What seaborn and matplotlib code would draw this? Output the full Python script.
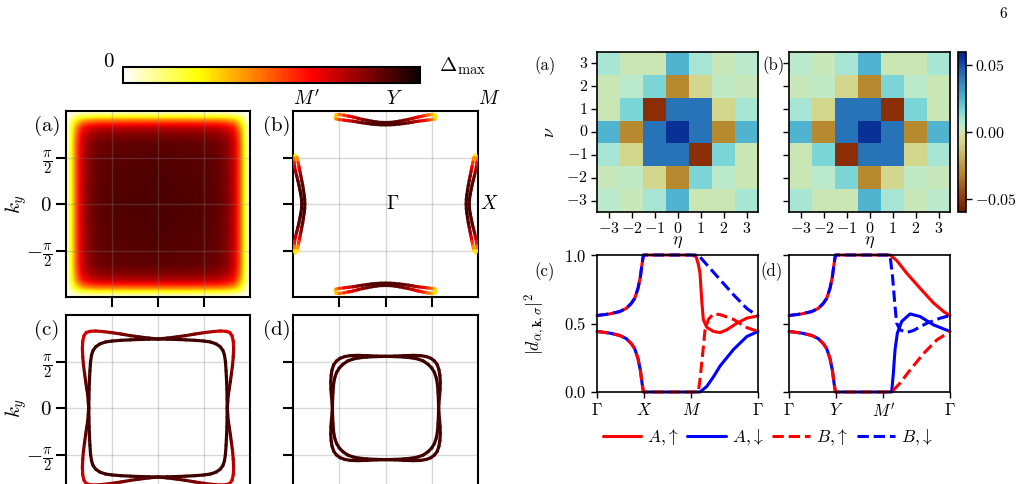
import numpy as np
import pandas as pd
import matplotlib
matplotlib.use("Agg")
import matplotlib.pyplot as plt
import seaborn as sns
from matplotlib.collections import LineCollection
from matplotlib.colors import LinearSegmentedColormap, Normalize
from matplotlib.cm import ScalarMappable

# ---------------- data ----------------
# gap profile vs distance from BZ edge (units of pi), panel (a) left
edge_dist = [0.0, 0.025, 0.055, 0.09, 0.13, 0.18, 0.25, 0.35, 0.55, 1.0]
edge_gap = [0.0, 0.12, 0.25, 0.45, 0.62, 0.78, 0.87, 0.92, 0.94, 0.95]

# panel (b) left: top pocket (half, tip -> centre), units of pi
top_x = [-0.545, -0.535, -0.5, -0.45, -0.4, -0.35, -0.3, -0.25, -0.2, -0.15, -0.1, -0.05, 0.0]
top_up_y = [0.935, 0.958, 0.962, 0.955, 0.945, 0.935, 0.922, 0.91, 0.90, 0.89, 0.882, 0.877, 0.876]
top_lo_y = [0.935, 0.915, 0.908, 0.902, 0.896, 0.89, 0.882, 0.873, 0.866, 0.86, 0.855, 0.852, 0.851]
top_up_g = [0.22, 0.32, 0.42, 0.52, 0.6, 0.66, 0.72, 0.78, 0.83, 0.86, 0.88, 0.89, 0.9]
top_lo_g = [0.22, 0.4, 0.5, 0.6, 0.68, 0.74, 0.8, 0.84, 0.87, 0.89, 0.9, 0.9, 0.9]
# panel (b) left: left pocket (half, tip -> ky=0)
side_y = [0.525, 0.5, 0.45, 0.4, 0.35, 0.3, 0.25, 0.2, 0.15, 0.1, 0.05, 0.0]
side_out_x = [-0.975, -0.99, -0.988, -0.982, -0.972, -0.96, -0.947, -0.935, -0.925, -0.915, -0.908, -0.905]
side_in_x = [-0.975, -0.955, -0.945, -0.935, -0.925, -0.915, -0.905, -0.895, -0.887, -0.88, -0.874, -0.872]
side_out_g = [0.22, 0.4, 0.55, 0.68, 0.76, 0.82, 0.86, 0.88, 0.9, 0.9, 0.9, 0.9]
side_in_g = [0.22, 0.35, 0.5, 0.62, 0.72, 0.8, 0.85, 0.88, 0.9, 0.9, 0.9, 0.9]

# panel (c) left: first quadrant (top -> right)
c_out_x = [0.0, 0.1, 0.2, 0.3, 0.4, 0.5, 0.6, 0.68, 0.74, 0.78, 0.805, 0.818, 0.822, 0.818, 0.81, 0.798, 0.786, 0.775, 0.764, 0.758, 0.754]
c_out_y = [0.742, 0.752, 0.764, 0.778, 0.795, 0.81, 0.822, 0.828, 0.824, 0.812, 0.776, 0.72, 0.64, 0.55, 0.46, 0.37, 0.283, 0.21, 0.14, 0.07, 0.0]
c_out_g = [0.91, 0.9, 0.88, 0.86, 0.83, 0.79, 0.75, 0.72, 0.7, 0.7, 0.7, 0.71, 0.73, 0.77, 0.81, 0.84, 0.87, 0.89, 0.9, 0.91, 0.91]
c_in_x = [0.0, 0.1, 0.2, 0.3, 0.4, 0.5, 0.57, 0.63, 0.675, 0.705, 0.722, 0.733, 0.74, 0.745, 0.749, 0.751, 0.752]
c_in_y = [0.742, 0.74, 0.737, 0.733, 0.728, 0.72, 0.71, 0.69, 0.66, 0.62, 0.57, 0.5, 0.4, 0.3, 0.2, 0.1, 0.0]
c_in_g = [0.92] * 17

# panel (d) left: first quadrant (top -> right)
d_out_x = [0.0, 0.1, 0.2, 0.3, 0.38, 0.44, 0.49, 0.53, 0.56, 0.578, 0.588, 0.592, 0.59, 0.584, 0.577, 0.574]
d_out_y = [0.555, 0.558, 0.563, 0.566, 0.563, 0.553, 0.535, 0.505, 0.465, 0.41, 0.35, 0.28, 0.2, 0.12, 0.05, 0.0]
d_out_g = [0.91] * 16
d_in_x = [0.0, 0.1, 0.2, 0.28, 0.35, 0.41, 0.46, 0.5, 0.53, 0.55, 0.562, 0.568, 0.572, 0.574]
d_in_y = [0.555, 0.553, 0.548, 0.54, 0.527, 0.505, 0.47, 0.43, 0.38, 0.32, 0.25, 0.17, 0.09, 0.0]
d_in_g = [0.92] * 14

# right heatmaps (rows nu = 3 ... -3, columns eta = -3 ... 3)
eta = [-3, -2, -1, 0, 1, 2, 3]
nu = [3, 2, 1, 0, -1, -2, -3]
map_a = [
    [0.009, 0.001, 0.001, 0.025, 0.009, 0.002, 0.005],
    [0.001, 0.005, 0.016, -0.030, -0.007, 0.004, 0.002],
    [0.001, 0.016, -0.052, 0.043, 0.043, -0.007, 0.009],
    [0.025, -0.030, 0.043, 0.056, 0.043, -0.030, 0.025],
    [0.009, -0.007, 0.043, 0.043, -0.052, 0.016, 0.001],
    [0.002, 0.004, -0.007, -0.030, 0.016, 0.005, 0.001],
    [0.005, 0.002, 0.009, 0.025, 0.001, 0.001, 0.009],
]
map_b = [
    [0.005, 0.002, 0.009, 0.025, 0.001, 0.001, 0.009],
    [0.002, 0.004, -0.007, -0.030, 0.016, 0.005, 0.001],
    [0.009, -0.007, 0.043, 0.043, -0.052, 0.016, 0.001],
    [0.025, -0.030, 0.043, 0.056, 0.043, -0.030, 0.025],
    [0.001, 0.016, -0.052, 0.043, 0.043, -0.007, 0.009],
    [0.001, 0.005, 0.016, -0.030, -0.007, 0.004, 0.002],
    [0.009, 0.001, 0.001, 0.025, 0.009, 0.002, 0.005],
]

# right line plots: path coordinate (Gamma=0, X/Y=1, M/M'=2, Gamma=2+sqrt2)
path_ticks = [0.0, 1.0, 2.0, 3.414]
first_x = [0.0, 0.27, 0.48, 0.62, 0.73, 0.8, 0.87, 0.92, 0.957, 0.985, 1.0, 2.0]
first_up = [0.558, 0.57, 0.587, 0.61, 0.648, 0.684, 0.757, 0.842, 0.94, 1.0, 1.0, 1.0]
first_lo = [0.442, 0.43, 0.413, 0.39, 0.352, 0.316, 0.243, 0.158, 0.06, 0.0, 0.0, 0.0]

c_Aup_x = [2.1, 2.15, 2.184, 2.22, 2.255, 2.326, 2.468, 2.61, 2.752, 2.965, 3.177, 3.414]
c_Aup_y = [0.99, 0.93, 0.867, 0.672, 0.527, 0.473, 0.442, 0.434, 0.454, 0.502, 0.539, 0.556]
c_Adn_x = [2.184, 2.326, 2.468, 2.61, 2.894, 3.177, 3.414]
c_Adn_y = [0.0, 0.04, 0.11, 0.19, 0.31, 0.405, 0.442]
c_Bup_x = [2.149, 2.184, 2.241, 2.29, 2.362, 2.468, 2.61, 2.894, 3.177, 3.414]
c_Bup_y = [0.0, 0.09, 0.28, 0.45, 0.53, 0.57, 0.565, 0.53, 0.47, 0.442]
c_Bdn_x = [2.149, 2.326, 2.61, 2.894, 3.177, 3.319, 3.414]
c_Bdn_y = [1.0, 0.93, 0.82, 0.71, 0.61, 0.575, 0.558]

d_Aup_x = [2.142, 2.284, 2.496, 2.78, 3.064, 3.277, 3.414]
d_Aup_y = [1.0, 0.96, 0.867, 0.757, 0.65, 0.587, 0.558]
d_Adn_x = [2.177, 2.213, 2.248, 2.298, 2.39, 2.567, 2.78, 3.064, 3.414]
d_Adn_y = [0.0, 0.138, 0.308, 0.43, 0.515, 0.57, 0.551, 0.49, 0.442]
d_Bup_x = [2.177, 2.355, 2.567, 2.851, 3.135, 3.414]
d_Bup_y = [0.0, 0.065, 0.16, 0.28, 0.38, 0.442]
d_Bdn_x = [2.142, 2.199, 2.248, 2.284, 2.355, 2.496, 2.638, 2.922, 3.206, 3.414]
d_Bdn_y = [1.0, 0.83, 0.624, 0.502, 0.454, 0.434, 0.449, 0.502, 0.539, 0.558]

legend_labels = [r"$A,\!\uparrow$", r"$A,\!\downarrow$", r"$B,\!\uparrow$", r"$B,\!\downarrow$"]

# ---------------- style ----------------
sns.set_theme(style="ticks")
plt.rcParams.update({
    "font.family": "serif",
    "font.serif": ["cmr10", "DejaVu Serif"],
    "mathtext.fontset": "cm",
    "axes.formatter.use_mathtext": True,
    "axes.edgecolor": "black",
    "xtick.color": "black",
    "ytick.color": "black",
    "text.color": "black",
    "axes.labelcolor": "black",
})

W, H = 1029, 484
fig = plt.figure(figsize=(W / 100, H / 100), dpi=100)


def rect(x0, y0, x1, y1):
    return [x0 / W, 1 - y1 / H, (x1 - x0) / W, (y1 - y0) / H]


def ftext(px, py, s, **kw):
    fig.text(px / W, 1 - py / H, s, ha="center", va="center", **kw)


PI = np.pi
cmap_gap = plt.get_cmap("hot_r")
norm_gap = Normalize(0, 1)


def setup_left(ax, ylabels):
    ax.set_xlim(-PI, PI)
    ax.set_ylim(-PI, PI)
    ax.set_xticks([-PI / 2, 0, PI / 2])
    ax.set_yticks([-PI / 2, 0, PI / 2])
    ax.set_xticklabels([])
    if ylabels:
        ax.set_yticklabels([r"$-\frac{\pi}{2}$", r"$0$", r"$\frac{\pi}{2}$"], fontsize=15)
        ax.set_ylabel(r"$k_y$", fontsize=15)
        ax.yaxis.set_label_coords(-0.2, 0.5)
    else:
        ax.set_yticklabels([])
    ax.tick_params(length=7, width=1.5, direction="out", pad=3)
    ax.grid(True, color="0.5", alpha=0.3, lw=1.0)
    for s in ax.spines.values():
        s.set_linewidth(1.5)
        s.set_visible(True)


def add_curve(ax, x, y, g, lw=2.3):
    x = np.asarray(x) * PI
    y = np.asarray(y) * PI
    g = np.asarray(g)
    pts = np.column_stack([x, y])
    segs = np.stack([pts[:-1], pts[1:]], axis=1)
    lc = LineCollection(segs, cmap=cmap_gap, norm=norm_gap, linewidths=lw,
                        capstyle="round", joinstyle="round", zorder=3)
    lc.set_array(0.5 * (g[:-1] + g[1:]))
    ax.add_collection(lc)


def loop4(x, y, g):
    x, y, g = map(np.asarray, (x, y, g))
    X = np.concatenate([x, x[::-1][1:], -x[1:], -x[::-1][1:]])
    Y = np.concatenate([y, -y[::-1][1:], -y[1:], y[::-1][1:]])
    G = np.concatenate([g, g[::-1][1:], g[1:], g[::-1][1:]])
    return X, Y, G


# ---------- left colorbar ----------
cax_l = fig.add_axes(rect(123, 67, 420, 83))
cb = fig.colorbar(ScalarMappable(norm=norm_gap, cmap=cmap_gap), cax=cax_l, orientation="horizontal")
cb.set_ticks([])
cb.outline.set_linewidth(1.5)
ftext(108, 62, "0", fontsize=15)
ftext(463, 66, r"$\Delta_{\rm max}$", fontsize=15)

# ---------- left (a) ----------
ax_la = fig.add_axes(rect(66, 111, 250, 297))
k = np.linspace(-PI, PI, 400)
f = np.interp((PI - np.abs(k)) / PI, edge_dist, edge_gap)
Z = np.outer(f, f)
ax_la.imshow(Z, cmap=cmap_gap, norm=norm_gap, extent=[-PI, PI, -PI, PI], origin="lower",
             interpolation="bilinear", aspect="auto", zorder=0)
setup_left(ax_la, True)

# ---------- left (b) ----------
ax_lb = fig.add_axes(rect(293, 111, 478, 297))
setup_left(ax_lb, False)
tx = np.asarray(top_x)
for sy in (1, -1):
    ux = np.concatenate([tx, -tx[::-1][1:]])
    uy = sy * np.concatenate([top_up_y, top_up_y[::-1][1:]])
    ug = np.concatenate([top_up_g, top_up_g[::-1][1:]])
    ly = sy * np.concatenate([top_lo_y, top_lo_y[::-1][1:]])
    lg = np.concatenate([top_lo_g, top_lo_g[::-1][1:]])
    add_curve(ax_lb, ux, uy, ug)
    add_curve(ax_lb, ux, ly, lg)
sy_ = np.asarray(side_y)
for sx in (1, -1):
    yy = np.concatenate([sy_, -sy_[::-1][1:]])
    ox = sx * np.concatenate([side_out_x, side_out_x[::-1][1:]])
    og = np.concatenate([side_out_g, side_out_g[::-1][1:]])
    ix = sx * np.concatenate([side_in_x, side_in_x[::-1][1:]])
    ig = np.concatenate([side_in_g, side_in_g[::-1][1:]])
    add_curve(ax_lb, ox, yy, og)
    add_curve(ax_lb, ix, yy, ig)
txt_kw = dict(fontsize=14, ha="left")
ax_lb.text(-PI, PI * 1.03, r"$M'$", va="bottom", **txt_kw)
ax_lb.text(0, PI * 1.03, r"$Y$", va="bottom", **txt_kw)
ax_lb.text(PI, PI * 1.03, r"$M$", va="bottom", **txt_kw)
ax_lb.text(0, 0, r"$\Gamma$", va="center", **txt_kw)
ax_lb.text(PI * 1.02, 0, r"$X$", va="center", **txt_kw)

# ---------- left (c) ----------
ax_lc = fig.add_axes(rect(66, 315, 250, 501))
setup_left(ax_lc, True)
add_curve(ax_lc, *loop4(c_in_x, c_in_y, c_in_g))
add_curve(ax_lc, *loop4(c_out_x, c_out_y, c_out_g))

# ---------- left (d) ----------
ax_ld = fig.add_axes(rect(293, 315, 478, 501))
setup_left(ax_ld, False)
add_curve(ax_ld, *loop4(d_in_x, d_in_y, d_in_g))
add_curve(ax_ld, *loop4(d_out_x, d_out_y, d_out_g))

for lab, (px, py) in zip(["(a)", "(b)", "(c)", "(d)"], [(47, 126), (277, 126), (47, 330), (277, 330)]):
    ftext(px, py, lab, fontsize=15)

# ---------- right heatmaps ----------
cmap_div = LinearSegmentedColormap.from_list("div", [
    (0.0, "#6a1a02"), ((-0.052 + 0.06) / 0.12, "#8B2E08"), ((-0.03 + 0.06) / 0.12, "#B88A30"),
    ((-0.007 + 0.06) / 0.12, "#D3D68C"), ((0.001 + 0.06) / 0.12, "#CCE6B4"),
    ((0.005 + 0.06) / 0.12, "#BCEACC"), ((0.009 + 0.06) / 0.12, "#A8E6D4"),
    ((0.016 + 0.06) / 0.12, "#7DD6D6"), ((0.025 + 0.06) / 0.12, "#50B4D0"),
    ((0.043 + 0.06) / 0.12, "#2673B8"), ((0.056 + 0.06) / 0.12, "#0A2F96"), (1.0, "#08287e")])

eta_labels = [rf"${v}$" for v in eta]
nu_labels = [rf"${v}$" for v in nu]
df_a = pd.DataFrame(map_a, index=nu, columns=eta)
df_b = pd.DataFrame(map_b, index=nu, columns=eta)

ax_ra = fig.add_axes(rect(597, 52, 758, 212))
ax_rb = fig.add_axes(rect(789, 52, 950, 212))
cax_r = fig.add_axes(rect(958, 52, 966, 212))
sns.heatmap(df_a, ax=ax_ra, cmap=cmap_div, vmin=-0.06, vmax=0.06, cbar_ax=cax_r,
            xticklabels=eta_labels, yticklabels=nu_labels, linewidths=0)
sns.heatmap(df_b, ax=ax_rb, cmap=cmap_div, vmin=-0.06, vmax=0.06, cbar=False,
            xticklabels=eta_labels, yticklabels=nu_labels, linewidths=0)
for ax in (ax_ra, ax_rb):
    for s in ax.spines.values():
        s.set_visible(True)
        s.set_linewidth(1.2)
    ax.tick_params(length=4.5, width=1.0, labelsize=11.5, pad=2)
    plt.setp(ax.get_xticklabels(), rotation=0)
    plt.setp(ax.get_yticklabels(), rotation=0)
    ax.set_xlabel(r"$\eta$", fontsize=13)
    ax.xaxis.set_label_coords(0.5, -0.14)
ax_rb.tick_params(labelleft=False)
ax_rb.set_ylabel("")
ax_ra.set_ylabel(r"$\nu$", fontsize=13)
ax_ra.yaxis.set_label_coords(-0.25, 0.5)
cbar = ax_ra.collections[0].colorbar
cbar.set_ticks([-0.05, 0.0, 0.05])
cbar.set_ticklabels([r"$-0.05$", r"$0.00$", r"$0.05$"])
cbar.ax.tick_params(length=4.5, width=1.0, labelsize=11.5, pad=2)
cbar.outline.set_visible(True)
cbar.outline.set_linewidth(1.2)
cbar.outline.set_edgecolor("black")

ftext(545, 66, "(a)", fontsize=12)
ftext(773, 66, "(b)", fontsize=12)

# ---------- right line plots ----------
ax_rc = fig.add_axes(rect(597, 255, 758, 392))
ax_rd = fig.add_axes(rect(789, 255, 950, 392))


def series(first_y, x2, y2):
    return np.concatenate([first_x, x2]), np.concatenate([first_y, y2])


panels = [
    (ax_rc, [(first_up, c_Aup_x, c_Aup_y), (first_lo, c_Adn_x, c_Adn_y),
             (first_lo, c_Bup_x, c_Bup_y), (first_up, c_Bdn_x, c_Bdn_y)],
     [r"$\Gamma$", r"$X$", r"$M$", r"$\Gamma$"]),
    (ax_rd, [(first_up, d_Aup_x, d_Aup_y), (first_lo, d_Adn_x, d_Adn_y),
             (first_lo, d_Bup_x, d_Bup_y), (first_up, d_Bdn_x, d_Bdn_y)],
     [r"$\Gamma$", r"$Y$", r"$M'$", r"$\Gamma$"]),
]
styles = [("#ff0000", "-"), ("#0000ff", "-"), ("#ff0000", "--"), ("#0000ff", "--")]
for ax, sers, xl in panels:
    for (fy, x2, y2), (col, ls) in zip(sers, styles):
        xx, yy = series(fy, x2, y2)
        sns.lineplot(x=xx, y=yy, ax=ax, color=col, linestyle=ls, lw=2.2, sort=False,
                     estimator=None, clip_on=False)
    ax.set_xlim(0, path_ticks[-1])
    ax.set_ylim(0, 1)
    ax.set_xticks(path_ticks)
    ax.set_xticklabels(xl, fontsize=12)
    ax.set_yticks([0, 0.5, 1.0])
    ax.set_yticklabels([r"$0.0$", r"$0.5$", r"$1.0$"], fontsize=12)
    ax.tick_params(length=4.5, width=1.0, pad=3)
    for s in ax.spines.values():
        s.set_visible(True)
        s.set_linewidth(1.2)
ax_rd.tick_params(labelleft=False)
ax_rc.set_ylabel(r"$|d_{\alpha,\mathbf{k},\sigma}|^2$", fontsize=13)
ax_rc.yaxis.set_label_coords(-0.3, 0.5)

ftext(545, 272, "(c)", fontsize=12)
ftext(771, 272, "(d)", fontsize=12)

handles = ax_rc.get_lines()[:4]
fig.legend(handles, legend_labels, loc="center", bbox_to_anchor=(768 / W, 1 - 438 / H),
           ncol=4, frameon=False, fontsize=12.5, handlelength=2.2, columnspacing=0.5,
           handletextpad=0.35)

ftext(1003, 14, "6", fontsize=11)

fig.savefig("out.png", dpi=100)
